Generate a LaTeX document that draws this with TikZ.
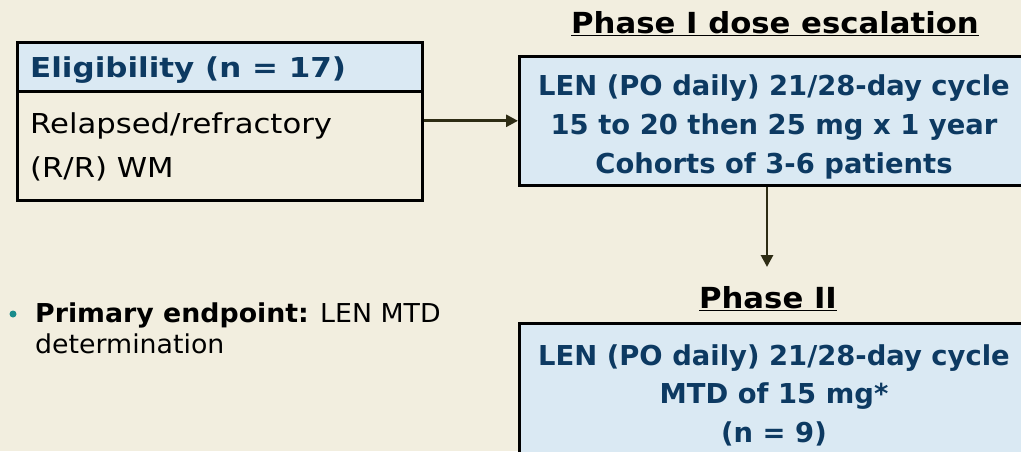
\documentclass[tikz,border=0pt]{standalone}
\usepackage{fontspec}
\setmainfont{DejaVu Sans}
\newfontfamily\titlefont[FakeStretch=1.06]{DejaVu Sans}
\newfontfamily\headfont[FakeStretch=1.13]{DejaVu Sans}
\newfontfamily\bodyfont[FakeStretch=1.12]{DejaVu Sans}
\newfontfamily\pointfont[FakeStretch=1.03]{DejaVu Sans}
\usetikzlibrary{arrows.meta}
\definecolor{bgbeige}{HTML}{F2EEDF}
\definecolor{boxblue}{HTML}{DAE9F3}
\definecolor{textblue}{HTML}{0D3A62}
\definecolor{arrowolive}{HTML}{2E2C14}
\definecolor{bulletteal}{HTML}{1B8C8C}
\tikzset{
  box/.style={draw=black, line width=2.6pt, inner sep=0pt, anchor=north west},
  boxtext/.style={text=textblue, font=\bfseries\fontsize{27.4}{39}\selectfont, align=center, inner sep=0pt, anchor=base},
  phasetitle/.style={font=\titlefont\bfseries\fontsize{29}{30}\selectfont, text=black, inner sep=0pt, anchor=base},
  conn/.style={draw=arrowolive, line width=2.8pt, -{Triangle[length=12pt,width=12pt]}}
}
\begin{document}
\begin{tikzpicture}[x=1pt,y=-1pt]
\fill[bgbeige] (0,0) rectangle (1021,451);
\clip (0,0) rectangle (1021,451);

% eligibility
\node[box, fill=boxblue, minimum width=405pt, minimum height=49pt] (elighead) at (16,41) {};
\node[box, minimum width=405pt, minimum height=109pt] (eligbody) at (16,90) {};
\node[anchor=base west, inner sep=0pt, text=textblue, font=\headfont\bfseries\fontsize{27.4}{30}\selectfont] (eligtitle) at (30,77) {Eligibility (n = 17)};
\node[anchor=base west, inner sep=0pt, align=left, font=\bodyfont\fontsize{27.4}{44}\selectfont] (eligtext) at (30,177) {Relapsed/refractory\\(R/R) WM};

% phase I
\node[phasetitle] (titleone) at (775,33) {\underline{Phase I dose escalation}};
\node[box, fill=boxblue, minimum width=510pt, minimum height=129pt] (phaseone) at (518,55) {};
\node[boxtext] (phaseonetext) at (774,173) {LEN (PO daily) 21/28-day cycle\\15 to 20 then 25 mg x 1 year\\Cohorts of 3-6 patients};

% phase II
\node[phasetitle] (titletwo) at (768,308) {\underline{Phase II}};
\node[box, fill=boxblue, minimum width=510pt, minimum height=146pt] (phasetwo) at (518,322) {};
\node[boxtext, font=\bfseries\fontsize{27.4}{38.5}\selectfont] (phasetwotext) at (774,442) {LEN (PO daily) 21/28-day cycle\\MTD of 15 mg*\\(n = 9)};

% endpoint
\fill[bulletteal] (13,314) circle (3.5pt);
\node[anchor=base west, inner sep=0pt, align=left, font=\pointfont\fontsize{26}{31}\selectfont] (endpoint) at (35,353) {\textbf{Primary endpoint:} LEN MTD\\determination};

\coordinate (split) at (767,267);
\draw[conn] (eligbody.east |- phaseone.west) -- (phaseone.west);
\draw[conn] (phaseone.south -| split) -- (split);
\end{tikzpicture}
\end{document}
